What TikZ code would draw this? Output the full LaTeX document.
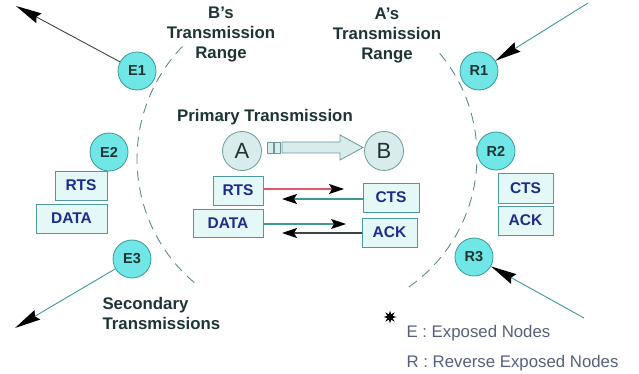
\documentclass[tikz,border=0pt]{standalone}
\usepackage{fontspec}
\setmainfont{Liberation Sans}
\usetikzlibrary{arrows.meta,shapes.geometric,calc}
\definecolor{tealline}{HTML}{3C9898}
\definecolor{boxborder}{HTML}{4E9A9A}
\definecolor{boxfill}{HTML}{E4F8F8}
\definecolor{boxtext}{HTML}{1C2C8C}
\definecolor{cyanfill}{HTML}{70E6E6}
\definecolor{abfill}{HTML}{D8ECEC}
\definecolor{abborder}{HTML}{6A9A9A}
\definecolor{titletext}{HTML}{1E3434}
\definecolor{legendtext}{HTML}{56607E}
\definecolor{rangeline}{HTML}{5A8A8A}
\definecolor{redline}{HTML}{E05868}
\definecolor{darkline}{HTML}{3A4646}
\begin{document}
\begin{tikzpicture}[x=1pt,y=-1pt,
  enode/.style={circle,draw=tealline,fill=cyanfill,line width=0.8pt,minimum size=38pt,inner sep=0pt,
    font=\bfseries\fontsize{14.5}{16}\selectfont,text=titletext},
  abnode/.style={circle,draw=abborder,fill=abfill,line width=0.8pt,minimum size=39pt,inner sep=0pt,
    font=\fontsize{22}{24}\selectfont,text=titletext},
  msgbox/.style={rectangle,draw=boxborder,fill=boxfill,line width=0.8pt,inner sep=0pt,
    font=\bfseries\fontsize{15.5}{17}\selectfont,text=boxtext},
  title/.style={align=center,font=\bfseries\fontsize{16.8}{20}\selectfont,text=titletext},
  legend/.style={anchor=west,font=\fontsize{16.8}{20}\selectfont,text=legendtext},
  rangearc/.style={draw=rangeline,line width=0.9pt,dash pattern=on 10pt off 7pt},
  bigarr/.style={line width=0.9pt,-{Stealth[length=26pt,width=11pt,inset=3pt,color=black]}},
  msgarr/.style={line width=1.1pt,-{Stealth[length=15pt,width=10pt,inset=3pt,color=black]}}
]
\useasboundingbox (0,0) rectangle (639,374);

% transmission ranges
\draw[rangearc] plot[domain=136:232,samples=80] ({299+162*cos(\x)},{159-162*sin(\x)});
\draw[rangearc] plot[domain=-55:42,samples=80] ({317+160*cos(\x)},{156-160*sin(\x)});

% titles
\node[title] (btitle) at (221,35) {B's\\Transmission\\Range};
\node[title] (atitle) at (387,36) {A's\\Transmission\\Range};
\node[title] (ptitle) at (265,117) {Primary Transmission};
\node[title,align=left,anchor=west] (stitle) at (99,313) {Secondary\\Transmissions};

% nodes
\node[enode] (E1) at (137,71) {E1};
\node[enode] (E2) at (109,152) {E2};
\node[enode] (E3) at (132,259) {E3};
\node[enode] (R1) at (479,71) {R1};
\node[enode] (R2) at (496,151) {R2};
\node[enode] (R3) at (474,257) {R3};
\node[abnode] (A) at (242,151) {A};
\node[abnode] (B) at (384,151) {B};

% big arrow A -> B
\draw[draw=abborder,fill=abfill,line width=0.8pt] (267,142) rectangle (273,153);
\draw[draw=abborder,fill=abfill,line width=0.8pt] (274,142) rectangle (280,153);
\draw[draw=abborder,fill=abfill,line width=0.8pt]
  (282,142) -- (340,142) -- (340,135) -- (363,147.5) -- (340,160) -- (340,153) -- (282,153) -- cycle;

% message boxes
\node[msgbox,minimum width=52pt,minimum height=29pt] (rtsL) at (81,185.5) {RTS};
\node[msgbox,minimum width=71pt,minimum height=29pt] (dataL) at (71.5,218.5) {DATA};
\node[msgbox,minimum width=55pt,minimum height=30pt] (ctsR) at (525.5,188) {CTS};
\node[msgbox,minimum width=55pt,minimum height=29pt] (ackR) at (525.5,220.5) {ACK};
\node[msgbox,minimum width=50pt,minimum height=29pt] (rtsM) at (238,190.5) {RTS};
\node[msgbox,minimum width=70pt,minimum height=28pt] (dataM) at (228,223) {DATA};
\node[msgbox,minimum width=56pt,minimum height=29pt] (ctsM) at (391,197.5) {CTS};
\node[msgbox,minimum width=55pt,minimum height=29pt] (ackM) at (389.5,232.5) {ACK};

% message arrows
\coordinate (t1) at (344,189);
\coordinate (t2) at (282,199);
\coordinate (t3) at (346,224);
\coordinate (t4) at (282,233);
\draw[msgarr,redline] (rtsM.east |- t1) -- (t1);
\draw[msgarr,tealline] (ctsM.west |- t2) -- (t2);
\draw[msgarr,tealline] (dataM.east |- t3) -- (t3);
\draw[msgarr,darkline] (ackM.west |- t4) -- (t4);

% secondary transmission arrows
\coordinate (e1t) at (16,6);
\coordinate (e3t) at (15,328);
\coordinate (r1s) at (588,3);
\coordinate (r3s) at (584,318);
\draw[bigarr,darkline] (E1) -- (e1t);
\draw[bigarr,tealline] (E3) -- (e3t);
\draw[bigarr,tealline] (r1s) -- (R1);
\draw[bigarr,tealline] (r3s) -- (R3);

% legend
\node[star,star points=8,star point ratio=2.2,fill=black,minimum size=13pt,inner sep=0pt] (star) at (390,317) {};
\node[legend] (leg1) at (403,333) {E : Exposed Nodes};
\node[legend] (leg2) at (403,363) {R : Reverse Exposed Nodes};
\end{tikzpicture}
\end{document}
